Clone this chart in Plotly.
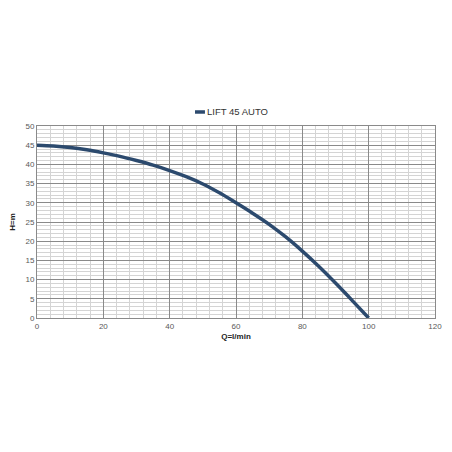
import plotly.graph_objects as go

# pump curve LIFT 45 AUTO
q_lmin = [0, 5, 10, 15, 20, 25, 30, 35, 40, 45, 50, 55, 60, 65, 70, 75, 80, 85, 90, 95, 100]
h_m = [45, 44.8, 44.4, 43.8, 43.0, 42.1, 41.0, 39.8, 38.4, 36.8, 34.9, 32.6, 30.0, 27.3, 24.4, 21.1, 17.4, 13.4, 9.1, 4.6, 0]
series_name = "LIFT 45 AUTO"

font = "Liberation Sans"
navy = "#2c4a6e"

fig = go.Figure()
fig.add_trace(go.Scatter(x=q_lmin, y=h_m, mode="lines", name=series_name, showlegend=False,
                         line=dict(color=navy, width=3.5, shape="spline")))

# small legend like the excel one: short line + label
fig.add_shape(type="line", xref="paper", yref="paper", x0=0.397, x1=0.422, y0=1.073, y1=1.073,
              line=dict(color=navy, width=3.5))
fig.add_annotation(text=series_name, xref="paper", yref="paper", x=0.423, y=1.073,
                   xanchor="left", yanchor="middle", showarrow=False,
                   font=dict(family=font, size=9.5, color="#333"))

# page body adds 8px offset, so figure is 444 and margins shifted
fig.update_layout(
    width=444, height=444,
    margin=dict(l=29, r=17, t=118, b=134),
    paper_bgcolor="white", plot_bgcolor="white",
    font=dict(family=font),
)
fig.update_xaxes(range=[0, 120], dtick=20, tickfont=dict(size=8, color="#595959"),
                 showgrid=True, gridcolor="#8a8a8a", gridwidth=1,
                 minor=dict(dtick=4, showgrid=True, gridcolor="#d4d4d4", gridwidth=1),
                 showline=True, linecolor="#8a8a8a", mirror=True, zeroline=False,
                 ticks="", automargin=False,
                 title=dict(text="<b>Q=l/min</b>", font=dict(size=8, color="#222"), standoff=3))
fig.update_yaxes(range=[0, 50], dtick=5, tickfont=dict(size=8, color="#595959"),
                 showgrid=True, gridcolor="#8a8a8a", gridwidth=1,
                 minor=dict(dtick=1, showgrid=True, gridcolor="#d4d4d4", gridwidth=1),
                 showline=True, linecolor="#8a8a8a", mirror=True, zeroline=False,
                 ticks="", automargin=False,
                 title=dict(text="<b>H=m</b>", font=dict(size=8, color="#222"), standoff=8))

fig.write_html("out.html")
